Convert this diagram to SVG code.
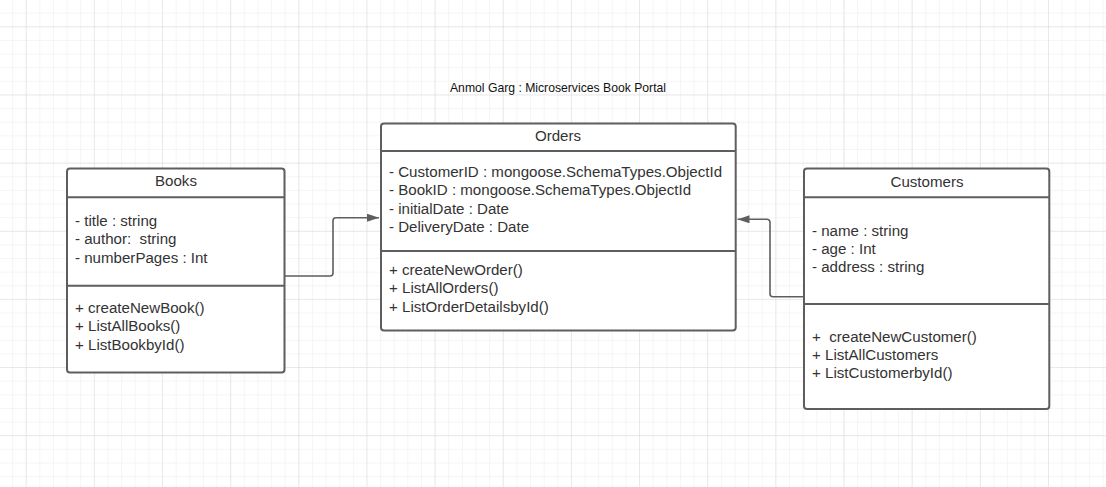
<svg xmlns="http://www.w3.org/2000/svg" width="1106" height="487" viewBox="0 0 1106 487">
<defs>
<pattern id="minor" width="13.63" height="13.63" patternUnits="userSpaceOnUse" x="-0.56" y="0.04">
<path d="M13.63 0V13.63M0 13.63H13.63" fill="none" stroke="#ececec" stroke-width="1"/>
</pattern>
<pattern id="major" width="68.15" height="68.15" patternUnits="userSpaceOnUse" x="-41.45" y="-40.85">
<path d="M68.15 0V68.15M0 68.15H68.15" fill="none" stroke="#dcdcdc" stroke-width="1"/>
</pattern>
<marker id="arr" markerWidth="12" markerHeight="8" refX="12" refY="4" orient="auto" markerUnits="userSpaceOnUse">
<path d="M0 0L12 4L0 8Z" fill="#5e5e5e"/>
</marker>
</defs>
<style>
.box{fill:#fff;stroke:#5e5e5e;stroke-width:2}
.ln{stroke:#5e5e5e;stroke-width:2;fill:none}
.t{font-family:"Liberation Sans",Arial,sans-serif;font-size:15.1px;fill:#333;white-space:pre}
.h{text-anchor:middle}
.conn{stroke:#5e5e5e;stroke-width:1.6;fill:none;marker-end:url(#arr)}
</style>
<rect width="1106" height="487" fill="#fff"/>
<rect width="1106" height="487" fill="url(#minor)"/>
<rect width="1106" height="487" fill="url(#major)"/>
<text x="558" y="92" text-anchor="middle" style="font-family:'Liberation Sans',Arial,sans-serif;font-size:12.2px;fill:#111">Anmol Garg : Microservices Book Portal</text>
<g id="connectors">
<path class="conn" d="M285 276H330a3 3 0 0 0 3-3V220.7a3 3 0 0 1 3-3H379"/>
<path class="conn" d="M804 296.7H773a3 3 0 0 1-3-3V222.3a3 3 0 0 0-3-3H737.5"/>
</g>
<g id="books">
<rect class="box" x="67" y="168.5" width="217.5" height="204" rx="3"/>
<line class="ln" x1="67" y1="197.3" x2="284.5" y2="197.3"/>
<line class="ln" x1="67" y1="285.7" x2="284.5" y2="285.7"/>
<text class="t h" x="176" y="186">Books</text>
<text class="t" x="75" y="225.8">- title : string</text>
<text class="t" x="75" y="244.3">- author:  string</text>
<text class="t" x="75" y="262.8">- numberPages : Int</text>
<text class="t" x="75" y="312.8">+ createNewBook()</text>
<text class="t" x="75" y="331.3">+ ListAllBooks()</text>
<text class="t" x="75" y="349.8">+ ListBookbyId()</text>
</g>
<g id="orders">
<rect class="box" x="381" y="123.5" width="354.7" height="207" rx="3"/>
<line class="ln" x1="381" y1="151" x2="735.7" y2="151"/>
<line class="ln" x1="381" y1="251" x2="735.7" y2="251"/>
<text class="t h" x="558" y="141">Orders</text>
<text class="t" x="389" y="176.8">- CustomerID : mongoose.SchemaTypes.ObjectId</text>
<text class="t" x="389" y="195.3">- BookID : mongoose.SchemaTypes.ObjectId</text>
<text class="t" x="389" y="213.8">- initialDate : Date</text>
<text class="t" x="389" y="232.3">- DeliveryDate : Date</text>
<text class="t" x="389" y="274.8">+ createNewOrder()</text>
<text class="t" x="389" y="293.3">+ ListAllOrders()</text>
<text class="t" x="389" y="311.8">+ ListOrderDetailsbyId()</text>
</g>
<g id="customers">
<rect class="box" x="804" y="168.5" width="245.3" height="240.5" rx="3"/>
<line class="ln" x1="804" y1="197.3" x2="1049.3" y2="197.3"/>
<line class="ln" x1="804" y1="304" x2="1049.3" y2="304"/>
<text class="t h" x="927" y="187">Customers</text>
<text class="t" x="812" y="235.8">- name : string</text>
<text class="t" x="812" y="253.8">- age : Int</text>
<text class="t" x="812" y="271.8">- address : string</text>
<text class="t" x="812" y="341.8">+  createNewCustomer()</text>
<text class="t" x="812" y="359.8">+ ListAllCustomers</text>
<text class="t" x="812" y="377.8">+ ListCustomerbyId()</text>
</g>
</svg>
